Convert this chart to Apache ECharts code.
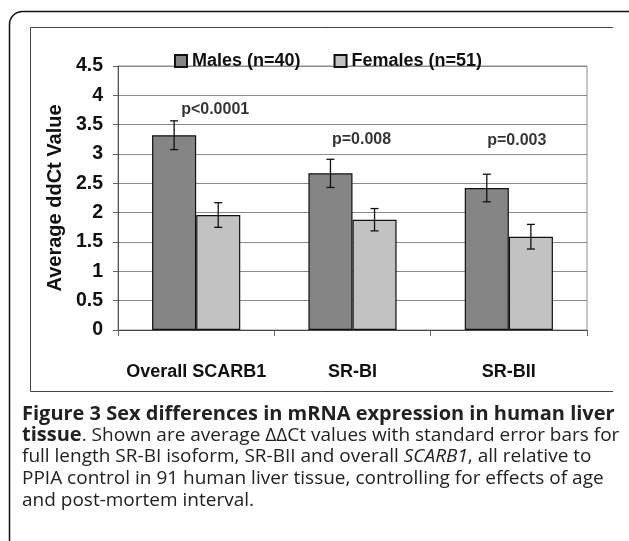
<!DOCTYPE html>
<html>
<head>
<meta charset="utf-8">
<script src="https://cdn.jsdelivr.net/npm/echarts@6/dist/echarts.min.js"></script>
<style>
html,body{margin:0;padding:0;background:#fff;}
#c{width:629px;height:541px;}
</style>
</head>
<body>
<div id="c"></div>
<script>
var categories = ['Overall SCARB1', 'SR-BI', 'SR-BII'];
var seriesNames = ['Males (n=40)', 'Females (n=51)'];
var males = [3.32, 2.67, 2.42];
var females = [1.96, 1.88, 1.59];
var malesErr = [0.245, 0.24, 0.235];
var femalesErr = [0.21, 0.19, 0.21];
var pLabels = ['p<0.0001', 'p=0.008', 'p=0.003'];
var pLabelY = [3.76, 3.24, 3.22];
var yTicks = [0, 0.5, 1, 1.5, 2, 2.5, 3, 3.5, 4, 4.5];

var CAT_GAP = 0.436;
var chart = echarts.init(document.getElementById('c'), null, {renderer: 'canvas'});

function errSeries(vals, errs, sideSign) {
  return {
    type: 'custom',
    silent: true,
    z: 5,
    data: vals.map(function (v, i) { return [i, v - errs[i], v + errs[i]]; }),
    renderItem: function (params, api) {
      var catW = api.size([1, 0])[0];
      var barW = catW * (1 - CAT_GAP) / 2;
      var lo = api.coord([api.value(0), api.value(1)]);
      var hi = api.coord([api.value(0), api.value(2)]);
      var x = lo[0] + sideSign * barW / 2;
      var cap = 4;
      var st = {stroke: '#111', lineWidth: 1.3};
      return {
        type: 'group',
        children: [
          {type: 'line', shape: {x1: x, y1: lo[1], x2: x, y2: hi[1]}, style: st},
          {type: 'line', shape: {x1: x - cap, y1: lo[1], x2: x + cap, y2: lo[1]}, style: st},
          {type: 'line', shape: {x1: x - cap, y1: hi[1], x2: x + cap, y2: hi[1]}, style: st}
        ]
      };
    }
  };
}

var pOffsets = [[19, 0], [9, 0], [8, 0]];

var font = '"Liberation Sans", Arial, sans-serif';
var capFont = '"Open Sans", sans-serif';
var capColor = '#222';
var boldCap = 'bold 20px ' + capFont;
var regCap = '19px ' + capFont;
var itCap = 'italic 19px ' + capFont;

var option = {
  animation: false,
  backgroundColor: '#fff',
  grid: {left: 118, right: 42, top: 66, bottom: 211, show: true, borderColor: '#8c8c8c', borderWidth: 1},
  legend: {
    data: seriesNames,
    left: 169, top: 47,
    itemWidth: 12, itemHeight: 12, itemGap: 33,
    icon: 'rect',
    textStyle: {fontFamily: font, fontWeight: 'bold', fontSize: 18, color: '#111'}
  },
  xAxis: {
    type: 'category',
    data: categories,
    axisLine: {lineStyle: {color: '#444', width: 1}},
    axisTick: {show: true, length: 6, lineStyle: {color: '#666'}},
    axisLabel: {interval: 0, hideOverlap: false, margin: 33, fontFamily: font, fontWeight: 'bold', fontSize: 18, color: '#111'}
  },
  yAxis: {
    type: 'value',
    min: 0, max: 4.5, interval: 0.5,
    name: 'Average ddCt Value',
    nameLocation: 'middle',
    nameGap: 52,
    nameRotate: 90,
    nameTextStyle: {fontFamily: font, fontWeight: 'bold', fontSize: 20, color: '#111'},
    axisLine: {show: true, lineStyle: {color: '#555', width: 1}},
    axisTick: {show: true, length: 5, lineStyle: {color: '#666'}},
    splitLine: {show: true, lineStyle: {color: '#8c8c8c', width: 1}},
    axisLabel: {
      margin: 15, fontFamily: font, fontWeight: 'bold', fontSize: 19.5, color: '#111',
      formatter: function (v) { return yTicks.indexOf(v) >= 0 ? String(v) : ''; }
    }
  },
  series: [
    {name: seriesNames[0], type: 'bar', data: males, barGap: '0%', barCategoryGap: (CAT_GAP * 100) + '%',
     itemStyle: {color: '#858585', borderColor: '#111', borderWidth: 1.2}},
    {name: seriesNames[1], type: 'bar', data: females, barGap: '0%', barCategoryGap: (CAT_GAP * 100) + '%',
     itemStyle: {color: '#c2c2c2', borderColor: '#111', borderWidth: 1.2}},
    errSeries(males, malesErr, -1),
    errSeries(females, femalesErr, 1),
    {
      type: 'scatter', symbolSize: 0, silent: true, z: 6,
      data: pLabelY.map(function (y, i) {
        return {value: [i, y], label: {offset: pOffsets[i], formatter: pLabels[i]}};
      }),
      label: {show: true, position: 'inside', fontFamily: font, fontWeight: 'bold', fontSize: 16, color: '#000'}
    }
  ],
  graphic: [
    {type: 'rect', z: -10, shape: {x: 9.5, y: 11.5, width: 640, height: 560, r: 13},
     style: {fill: 'none', stroke: '#111', lineWidth: 1.5}},
    {type: 'polyline', z: -9, shape: {points: [[613, 27.5], [30.5, 27.5], [30.5, 391.5], [613, 391.5]]},
     style: {fill: 'none', stroke: '#444', lineWidth: 1}},
    {type: 'text', left: 22, top: 404, style: {
      text: 'Figure 3 Sex differences in mRNA expression in human liver',
      font: boldCap, fill: capColor}},
    {type: 'text', left: 22, top: 425.7, style: {
      text: '{b|tissue}{r|. Shown are average \u0394\u0394Ct values with standard error bars for}',
      rich: {b: {font: boldCap, fill: capColor}, r: {font: regCap, fill: capColor}}}},
    {type: 'text', left: 22, top: 447.3, style: {
      text: '{r|full length SR-BI isoform, SR-BII and overall }{i|SCARB1}{r|, all relative to}',
      rich: {i: {font: itCap, fill: capColor}, r: {font: regCap, fill: capColor}}}},
    {type: 'text', left: 22, top: 469, style: {
      text: 'PPIA control in 91 human liver tissue, controlling for effects of age',
      font: regCap, fill: capColor}},
    {type: 'text', left: 22, top: 490.7, style: {
      text: 'and post-mortem interval.',
      font: regCap, fill: capColor}}
  ]
};
chart.setOption(option);
</script>
</body>
</html>
